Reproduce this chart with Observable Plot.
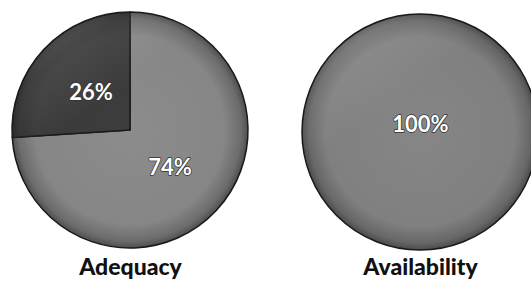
<!DOCTYPE html>
<html>
<head>
<meta charset="utf-8">
<script src="https://cdn.jsdelivr.net/npm/d3@7"></script>
<script src="https://cdn.jsdelivr.net/npm/@observablehq/plot@0.6"></script>
<style>
  html, body { margin: 0; padding: 0; background: #fff; }
  #chart { width: 531px; height: 288px; }
</style>
</head>
<body>
<div id="chart"></div>
<script>
// ---- data ----
const pieNames = ["Adequacy", "Availability"];
const adequacyValues = [74, 26];
const availabilityValues = [100];
const adequacyLabels = ["74%", "26%"];
const availabilityLabels = ["100%"];
const adequacyColors = ["#868686", "#3a3a3a"];
const availabilityColors = ["#808080"];

// ---- layout (pixels) ----
const W = 531, H = 288;
const centers = [[130, 130], [420, 132]];
const R = 118;
const titleY = 267;

const series = [
  {name: pieNames[0], values: adequacyValues, labels: adequacyLabels, colors: adequacyColors},
  {name: pieNames[1], values: availabilityValues, labels: availabilityLabels, colors: availabilityColors}
];

const slices = [];
series.forEach((s, p) => {
  const [cx, cy] = centers[p];
  const arcs = d3.pie().sort(null).value(d => d)(s.values);
  arcs.forEach((a, i) => {
    let lx = cx, ly = cy - 8;
    if (s.values.length > 1) {
      const mid = (a.startAngle + a.endAngle) / 2;
      const lr = R * 0.46;
      lx = cx + Math.sin(mid) * lr;
      ly = cy - Math.cos(mid) * lr;
    }
    slices.push({pie: p, cx, cy, startAngle: a.startAngle, endAngle: a.endAngle,
      color: s.colors[i], label: s.labels[i], lx, ly, value: a.value});
  });
});

const titles = series.map((s, p) => ({name: s.name, x: centers[p][0], y: titleY}));

function pieMark(rows) {
  return (index, scales) => {
    const g = d3.create("svg:g");
    const defs = g.append("defs");
    const sheen = defs.append("linearGradient").attr("id", "pieSheen")
      .attr("x1", "0.1").attr("y1", "0").attr("x2", "0.6").attr("y2", "0.7");
    sheen.append("stop").attr("offset", "0%").attr("stop-color", "#fff").attr("stop-opacity", 0.3);
    sheen.append("stop").attr("offset", "25%").attr("stop-color", "#fff").attr("stop-opacity", 0.08);
    sheen.append("stop").attr("offset", "55%").attr("stop-color", "#fff").attr("stop-opacity", 0);
    rows.forEach((d, i) => {
      const x = scales.x(d.cx), y = scales.y(d.cy);
      const r = scales.x(d.cx + R) - scales.x(d.cx);
      const c = d3.color(d.color);
      const grad = defs.append("radialGradient").attr("id", "pieGrad" + i)
        .attr("gradientUnits", "userSpaceOnUse")
        .attr("cx", 0).attr("cy", 0).attr("r", r);
      grad.append("stop").attr("offset", "0%").attr("stop-color", c.brighter(0.12).formatHex());
      grad.append("stop").attr("offset", "80%").attr("stop-color", c.formatHex());
      grad.append("stop").attr("offset", "94%").attr("stop-color", c.darker(0.6).formatHex());
      grad.append("stop").attr("offset", "100%").attr("stop-color", c.darker(1.5).formatHex());
      g.append("path")
        .attr("transform", `translate(${x},${y})`)
        .attr("d", d3.arc()({innerRadius: 0, outerRadius: r, startAngle: d.startAngle, endAngle: d.endAngle}))
        .attr("fill", `url(#pieGrad${i})`)
        .attr("stroke", "#1a1a1a")
        .attr("stroke-width", 1.5)
        .attr("stroke-linejoin", "round");
    });
    centers.forEach(([cx, cy]) => {
      const x = scales.x(cx), y = scales.y(cy);
      const r = scales.x(cx + R) - scales.x(cx);
      g.append("circle").attr("cx", x).attr("cy", y).attr("r", r - 1)
        .attr("fill", "url(#pieSheen)");
    });
    return g.node();
  };
}

const chart = Plot.plot({
  width: W,
  height: H,
  margin: 0,
  x: {domain: [0, W], range: [0, W], axis: null},
  y: {domain: [0, H], range: [0, H], axis: null},
  style: {background: "#fff"},
  marks: [
    pieMark(slices),
    Plot.text(slices, {x: "lx", y: "ly", text: "label", fill: "#fff",
      fontSize: 22, fontWeight: "bold", fontFamily: "Lato",
      stroke: "#333", strokeWidth: 1.5, paintOrder: "stroke"}),
    Plot.text(titles, {x: "x", y: "y", text: "name", fill: "#111",
      fontSize: 23, fontWeight: 900, fontFamily: "Lato"})
  ]
});
document.getElementById("chart").append(chart);
</script>
</body>
</html>
